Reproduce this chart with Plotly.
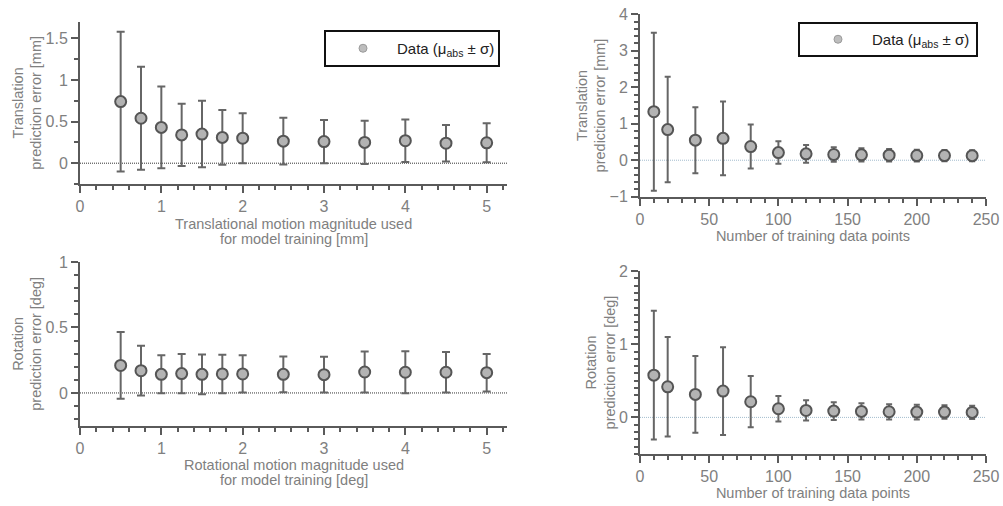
import plotly.graph_objects as go

# Translation error vs. translational motion magnitude used for training
trans_mag = [0.5, 0.75, 1.0, 1.25, 1.5, 1.75, 2.0, 2.5, 3.0, 3.5, 4.0, 4.5, 5.0]
trans_mag_mean = [0.74, 0.54, 0.43, 0.34, 0.35, 0.31, 0.30, 0.265, 0.26, 0.25, 0.27, 0.24, 0.245]
trans_mag_std = [0.84, 0.62, 0.49, 0.375, 0.40, 0.33, 0.30, 0.28, 0.26, 0.26, 0.255, 0.22, 0.235]

# Rotation error vs. rotational motion magnitude used for training
rot_mag = [0.5, 0.75, 1.0, 1.25, 1.5, 1.75, 2.0, 2.5, 3.0, 3.5, 4.0, 4.5, 5.0]
rot_mag_mean = [0.21, 0.17, 0.142, 0.148, 0.142, 0.145, 0.145, 0.142, 0.14, 0.16, 0.158, 0.158, 0.155]
rot_mag_std = [0.255, 0.19, 0.145, 0.15, 0.152, 0.147, 0.142, 0.136, 0.137, 0.157, 0.16, 0.155, 0.143]

# Errors vs. number of training data points
n_points = [10, 20, 40, 60, 80, 100, 120, 140, 160, 180, 200, 220, 240]
trans_n_mean = [1.33, 0.84, 0.55, 0.60, 0.375, 0.21, 0.174, 0.156, 0.147, 0.137, 0.128, 0.128, 0.125]
trans_n_std = [2.165, 1.445, 0.905, 1.01, 0.605, 0.31, 0.24, 0.20, 0.18, 0.17, 0.16, 0.155, 0.15]
rot_n_mean = [0.577, 0.418, 0.314, 0.36, 0.214, 0.118, 0.095, 0.086, 0.082, 0.077, 0.073, 0.073, 0.068]
rot_n_std = [0.88, 0.68, 0.525, 0.60, 0.35, 0.175, 0.138, 0.12, 0.11, 0.104, 0.10, 0.093, 0.09]

LEGEND_LABEL = "Data (\u03bc<sub>abs</sub> \u00b1 \u03c3)"
TRANS_MAG_TITLE = ["Translational motion magnitude used", "for model training [mm]"]
ROT_MAG_TITLE = ["Rotational motion magnitude used", "for model training [deg]"]

W, H = 1003, 506
FONT = "Liberation Sans, Arial, sans-serif"
AXIS_COLOR = "#5a5a5a"
TEXT_COLOR = "#808080"


def px_x(p):
    return p / W


def px_y(p):
    return 1 - p / H


fig = go.Figure()

panels = [
    # (xaxis, yaxis, x, mean, std, capwidth)
    ("x", "y", trans_mag, trans_mag_mean, trans_mag_std, 4),
    ("x2", "y2", n_points, trans_n_mean, trans_n_std, 3),
    ("x3", "y3", rot_mag, rot_mag_mean, rot_mag_std, 4),
    ("x4", "y4", n_points, rot_n_mean, rot_n_std, 3),
]

for xa, ya, xs, mean, std, cap in panels:
    fig.add_trace(go.Scatter(
        x=xs, y=mean, xaxis=xa, yaxis=ya, mode="markers",
        marker=dict(size=11, color="#b3b3b3", line=dict(color="#555555", width=2)),
        error_y=dict(type="data", array=std, visible=True, color="#666666",
                     thickness=2, width=cap),
        showlegend=False, hoverinfo="x+y",
    ))

# legend entries (one legend per top panel)
for lg, xa, ya in [("legend", "x", "y"), ("legend2", "x2", "y2")]:
    fig.add_trace(go.Scatter(
        x=[None], y=[None], xaxis=xa, yaxis=ya, mode="markers",
        marker=dict(size=8, color="#bdbdbd", line=dict(color="#9a9a9a", width=1)),
        name=LEGEND_LABEL, legend=lg, showlegend=True,
    ))

# zero reference lines
for xa, ya, col in [("x", "y", "#333333"), ("x3", "y3", "#333333"),
                    ("x2", "y2", "#a3bccd"), ("x4", "y4", "#a3bccd")]:
    fig.add_shape(type="line", xref=f"{xa} domain", yref=ya, x0=0, x1=1, y0=0, y1=0,
                  line=dict(color=col, width=1, dash="1px,1px"), layer="below")

# frames around the legends
for x0, x1, y0, y1 in [(325, 499, 31, 66), (799, 977, 23, 56)]:
    fig.add_shape(type="rect", xref="paper", yref="paper",
                  x0=px_x(x0), x1=px_x(x1), y0=px_y(y1), y1=px_y(y0),
                  line=dict(color="#111111", width=2), fillcolor="rgba(0,0,0,0)",
                  layer="above")

# two-line x titles of the left panels, set with tight line spacing
for xa, lines, y_first in [("x", TRANS_MAG_TITLE, 224), ("x3", ROT_MAG_TITLE, 465)]:
    for i, line in enumerate(lines):
        fig.add_annotation(
            text=line, xref=f"{xa} domain", yref="paper", x=0.5, y=px_y(y_first + 15 * i),
            xanchor="center", yanchor="middle", showarrow=False,
            font=dict(size=14.5, color=TEXT_COLOR, family=FONT),
        )


def xaxis_style(rng, dtick, minor_dtick, title, standoff, dom, anchor):
    return dict(
        domain=dom, anchor=anchor, range=rng, dtick=dtick, tick0=0,
        showline=True, linecolor=AXIS_COLOR, linewidth=2,
        ticks="outside", ticklen=7, tickwidth=1.5, tickcolor=AXIS_COLOR,
        minor=dict(dtick=minor_dtick, tick0=0, ticks="outside", ticklen=4,
                   tickwidth=1.5, tickcolor=AXIS_COLOR),
        showgrid=False, zeroline=False, automargin=False,
        tickfont=dict(size=16, color=TEXT_COLOR, family=FONT),
        title=dict(text=title, standoff=standoff,
                   font=dict(size=14.5, color=TEXT_COLOR, family=FONT)),
    )


def yaxis_style(rng, dtick, minor_dtick, title, dom, anchor):
    return dict(
        domain=dom, anchor=anchor, range=rng, dtick=dtick, tick0=0,
        showline=True, linecolor=AXIS_COLOR, linewidth=2,
        ticks="outside", ticklen=7, tickwidth=1.5, tickcolor=AXIS_COLOR,
        minor=dict(dtick=minor_dtick, tick0=0, ticks="outside", ticklen=4,
                   tickwidth=1.5, tickcolor=AXIS_COLOR),
        showgrid=False, zeroline=False, automargin=False,
        tickfont=dict(size=16, color=TEXT_COLOR, family=FONT),
        title=dict(text=title, standoff=0,
                   font=dict(size=14.5, color=TEXT_COLOR, family=FONT)),
    )


left_x = [px_x(80), px_x(507)]
right_x = [px_x(640), px_x(986)]

legend_common = dict(xanchor="left", yanchor="middle", bgcolor="rgba(0,0,0,0)",
                     borderwidth=0, itemwidth=58,
                     font=dict(size=15, color="#222222", family=FONT))

fig.update_layout(
    width=W, height=H,
    margin=dict(l=0, r=0, t=0, b=0, pad=0, autoexpand=False),
    paper_bgcolor="white", plot_bgcolor="white",
    font=dict(family=FONT, color=TEXT_COLOR),
    xaxis=xaxis_style([0, 5.25], 1, 0.2, None, 2, left_x, "y"),
    yaxis=yaxis_style([-0.25, 1.7], 0.5, 0.25,
                      "Translation<br>prediction error [mm]",
                      [px_y(184), px_y(21.7)], "x"),
    xaxis2=xaxis_style([0, 250], 50, 10, "Number of training data points",
                       4, right_x, "y2"),
    yaxis2=yaxis_style([-1, 4], 1, 0.2,
                       "Translation<br>prediction error [mm]",
                       [px_y(196.7), px_y(14.3)], "x2"),
    xaxis3=xaxis_style([0, 5.25], 1, 0.2, None, 0, left_x, "y3"),
    yaxis3=yaxis_style([-0.25, 1.0], 0.5, 0.1,
                       "Rotation<br>prediction error [deg]",
                       [px_y(425.7), px_y(262)], "x3"),
    xaxis4=xaxis_style([0, 250], 50, 10, "Number of training data points",
                       4, right_x, "y4"),
    yaxis4=yaxis_style([-0.5, 2.0], 1, 0.1,
                       "Rotation<br>prediction error [deg]",
                       [px_y(454), px_y(271)], "x4"),
    legend=dict(x=px_x(329), y=px_y(48.5), **legend_common),
    legend2=dict(x=px_x(804), y=px_y(39.5), **legend_common),
    showlegend=True,
)

fig.write_html("out.html")
